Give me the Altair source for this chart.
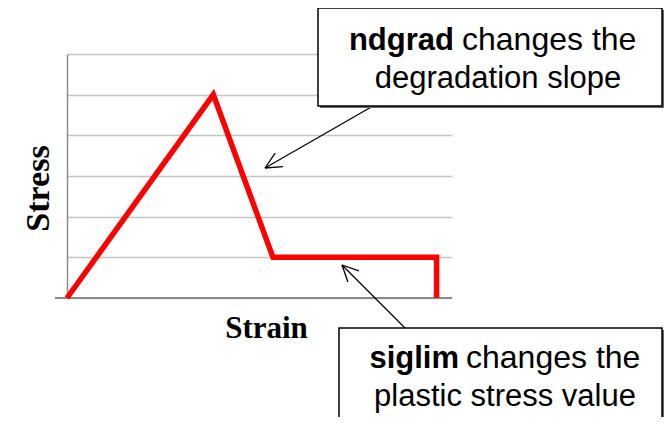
import math
import altair as alt
import pandas as pd

# ---- data ----
strain = [0.0, 3.8, 5.35, 9.6, 9.6]
stress = [0.0, 5.0, 1.0, 1.0, 0.0]
x_domain = [0, 10]
y_domain = [0, 6]
y_grid = [0, 1, 2, 3, 4, 5, 6]

note1_bold = "ndgrad"
note1_rest = "changes the"
note1_line2 = "degradation slope"
note2_bold = "siglim"
note2_rest = "changes the"
note2_line2 = "plastic stress value"

W, H = 385, 244
PAD = {"left": 59, "top": 46, "right": 212, "bottom": 119}

df = pd.DataFrame({"strain": strain, "stress": stress, "i": range(len(strain))})
one = pd.DataFrame({"a": [0]})

line = alt.Chart(df).mark_line(
    color="#ff0000", strokeWidth=5.5, strokeJoin="miter", strokeCap="butt"
).encode(
    x=alt.X("strain:Q", scale=alt.Scale(domain=x_domain, nice=False, zero=False),
            axis=alt.Axis(domain=False, ticks=False, labels=False, grid=False,
                          title="Strain", titleFont="Liberation Serif",
                          titleFontSize=31, titleFontWeight="bold",
                          titleColor="black", titleX=199, titleY=39,
                          titleAlign="center", titleBaseline="alphabetic")),
    y=alt.Y("stress:Q", scale=alt.Scale(domain=y_domain, nice=False),
            axis=alt.Axis(values=y_grid, grid=True, gridColor="#c4c4c4",
                          gridWidth=1.5, domain=True, domainColor="#8c8c8c",
                          domainWidth=1.5, ticks=False, labels=False,
                          title="Stress", titleFont="Liberation Serif",
                          titleFontSize=34, titleFontWeight="bold",
                          titleColor="black", titleAngle=270, titleX=-19,
                          titleY=134, titleAlign="center",
                          titleBaseline="alphabetic")),
    order="i:Q",
)

layers = []

# bottom axis line (extends left past the y axis)
layers.append(alt.Chart(one).mark_rule(color="#8c8c8c", strokeWidth=2).encode(
    x=alt.value(-12), x2=alt.value(W), y=alt.value(H), y2=alt.value(H)))
layers.append(line)


def seg(x1, y1, x2, y2, w=1.3):
    return alt.Chart(one).mark_rule(color="black", strokeWidth=w).encode(
        x=alt.value(x1), y=alt.value(y1), x2=alt.value(x2), y2=alt.value(y2))


def arrow(x1, y1, x2, y2, head=18, spread=0.45):
    out = [seg(x1, y1, x2, y2)]
    ang = math.atan2(y1 - y2, x1 - x2)
    for s in (-spread, spread):
        out.append(seg(x2, y2, x2 + head * math.cos(ang + s),
                       y2 + head * math.sin(ang + s)))
    return out


def box(x1, y1, x2, y2):
    shadow = alt.Chart(one).mark_rect(fill="#666666").encode(
        x=alt.value(x1 + 2), x2=alt.value(x2 + 2),
        y=alt.value(y1 + 2), y2=alt.value(y2 + 2))
    r = alt.Chart(one).mark_rect(fill="white", stroke="black",
                                 strokeWidth=1.5).encode(
        x=alt.value(x1), x2=alt.value(x2), y=alt.value(y1), y2=alt.value(y2))
    return [shadow, r]


def txt(s, x, y, align, bold=False, size=31):
    return alt.Chart(one).mark_text(
        text=s, align=align, baseline="alphabetic", font="Liberation Sans",
        fontSize=size, fontWeight="bold" if bold else "normal", color="black"
    ).encode(x=alt.value(x), y=alt.value(y))


# arrows
layers += arrow(306, 52, 198, 114)
layers += arrow(338, 274, 275, 211)

# box 1
layers += box(251, -46, 595, 52)
layers.append(txt(note1_bold, 387, -4, "right", bold=True))
layers.append(txt(note1_rest, 395, -4, "left", size=32))
layers.append(txt(note1_line2, 431, 34, "center"))

# box 2
layers += box(272, 274, 595, 390)
layers.append(txt(note2_bold, 392, 314, "right", bold=True))
layers.append(txt(note2_rest, 399, 314, "left", size=32))
layers.append(txt(note2_line2, 438, 352, "center"))

chart = alt.layer(*layers).properties(
    width=W, height=H,
    autosize=alt.AutoSizeParams(type="none"),
    padding=PAD,
).configure_view(stroke=None)

chart.save("out.html", embed_options={"renderer": "svg", "actions": False})
